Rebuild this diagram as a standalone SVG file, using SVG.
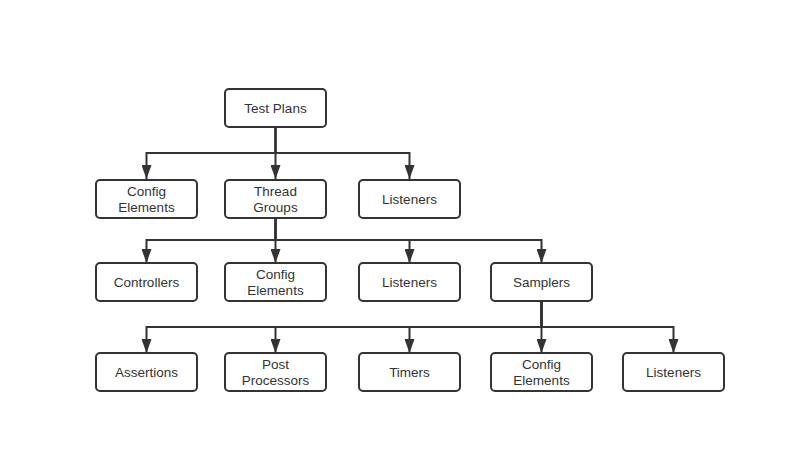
<svg xmlns="http://www.w3.org/2000/svg" width="785" height="452" viewBox="0 0 785 452">
<style>
.box{fill:#fff;stroke:#333;stroke-width:2}
.lbl{font-family:"Liberation Sans",Arial,sans-serif;font-size:13.5px;fill:#333;text-anchor:middle}
.con{fill:none;stroke:#333;stroke-width:2}
</style>
<defs>
<marker id="ah" viewBox="0 0 14 10" markerWidth="14" markerHeight="10" markerUnits="userSpaceOnUse" refX="14" refY="5" orient="auto">
<path d="M0,0 L14,5 L0,10 z" fill="#333"/>
</marker>
</defs>
<rect width="785" height="452" fill="#fff"/>
<g id="connectors">
<path class="con" marker-end="url(#ah)" d="M275.5,127 V153 H146.5 V179"/>
<path class="con" marker-end="url(#ah)" d="M275.5,127 V179"/>
<path class="con" marker-end="url(#ah)" d="M275.5,127 V153 H409.5 V179"/>
<path class="con" marker-end="url(#ah)" d="M275.5,218 V240 H146.5 V263"/>
<path class="con" marker-end="url(#ah)" d="M275.5,218 V263"/>
<path class="con" marker-end="url(#ah)" d="M275.5,218 V240 H409.5 V263"/>
<path class="con" marker-end="url(#ah)" d="M275.5,218 V240 H541.5 V263"/>
<path class="con" marker-end="url(#ah)" d="M541.5,301 V327 H146.5 V353"/>
<path class="con" marker-end="url(#ah)" d="M541.5,301 V327 H275.5 V353"/>
<path class="con" marker-end="url(#ah)" d="M541.5,301 V327 H409.5 V353"/>
<path class="con" marker-end="url(#ah)" d="M541.5,301 V353"/>
<path class="con" marker-end="url(#ah)" d="M541.5,301 V327 H673.5 V353"/>
</g>
<g id="test-plans"><rect class="box" x="225" y="89" width="101" height="38" rx="4"/><text class="lbl" x="275.5" y="112.5">Test Plans</text></g>
<g id="config-elements-1"><rect class="box" x="96" y="180" width="101" height="38" rx="4"/><text class="lbl" x="146.5" y="196">Config</text><text class="lbl" x="146.5" y="212">Elements</text></g>
<g id="thread-groups"><rect class="box" x="225" y="180" width="101" height="38" rx="4"/><text class="lbl" x="275.5" y="196">Thread</text><text class="lbl" x="275.5" y="212">Groups</text></g>
<g id="listeners-1"><rect class="box" x="359" y="180" width="101" height="38" rx="4"/><text class="lbl" x="409.5" y="203.5">Listeners</text></g>
<g id="controllers"><rect class="box" x="96" y="263" width="101" height="38" rx="4"/><text class="lbl" x="146.5" y="286.5">Controllers</text></g>
<g id="config-elements-2"><rect class="box" x="225" y="263" width="101" height="38" rx="4"/><text class="lbl" x="275.5" y="279">Config</text><text class="lbl" x="275.5" y="295">Elements</text></g>
<g id="listeners-2"><rect class="box" x="359" y="263" width="101" height="38" rx="4"/><text class="lbl" x="409.5" y="286.5">Listeners</text></g>
<g id="samplers"><rect class="box" x="491" y="263" width="101" height="38" rx="4"/><text class="lbl" x="541.5" y="286.5">Samplers</text></g>
<g id="assertions"><rect class="box" x="96" y="353" width="101" height="38" rx="4"/><text class="lbl" x="146.5" y="376.5">Assertions</text></g>
<g id="post-processors"><rect class="box" x="225" y="353" width="101" height="38" rx="4"/><text class="lbl" x="275.5" y="369">Post</text><text class="lbl" x="275.5" y="385">Processors</text></g>
<g id="timers"><rect class="box" x="359" y="353" width="101" height="38" rx="4"/><text class="lbl" x="409.5" y="376.5">Timers</text></g>
<g id="config-elements-3"><rect class="box" x="491" y="353" width="101" height="38" rx="4"/><text class="lbl" x="541.5" y="369">Config</text><text class="lbl" x="541.5" y="385">Elements</text></g>
<g id="listeners-3"><rect class="box" x="623" y="353" width="101" height="38" rx="4"/><text class="lbl" x="673.5" y="376.5">Listeners</text></g>
</svg>
